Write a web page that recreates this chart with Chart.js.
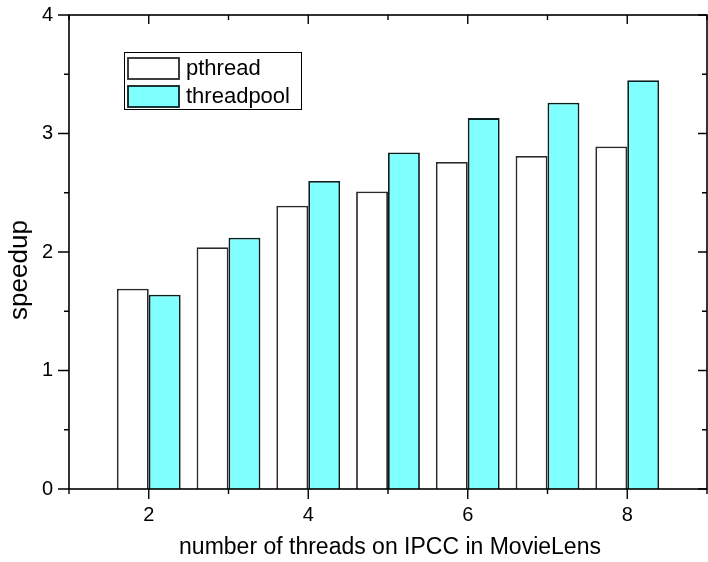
<!DOCTYPE html>
<html>
<head>
<meta charset="utf-8">
<script src="https://cdn.jsdelivr.net/npm/chart.js@4.4.0/dist/chart.umd.min.js"></script>
<style>
    html, body { margin: 0; padding: 0; background: #fff; }
    #wrap { width: 708px; height: 562px; }
</style>
</head>
<body>
<div id="wrap"><canvas id="speedupChart" width="708" height="562"></canvas></div>
<script>
// data
const threads = [2, 3, 4, 5, 6, 7, 8];
const pthreadSpeedup = [1.69, 2.04, 2.39, 2.51, 2.76, 2.81, 2.89];
const threadpoolSpeedup = [1.64, 2.12, 2.60, 2.84, 3.13, 3.26, 3.45];
const xTickLabels = [2, 4, 6, 8];
const yTickLabels = [0, 1, 2, 3, 4];

const FONT = '"Liberation Sans", Arial, sans-serif';

// frame, tick marks, axis titles and the boxed legend
const framePlugin = {
    id: 'frame',
    afterDraw(chart) {
        const ctx = chart.ctx;
        const a = chart.chartArea;
        const x = chart.scales.x;
        const y = chart.scales.y;

        ctx.save();
        ctx.strokeStyle = '#000';
        ctx.lineWidth = 1.6;
        ctx.strokeRect(a.left, a.top, a.right - a.left, a.bottom - a.top);

        ctx.lineWidth = 1.4;
        ctx.beginPath();
        x.ticks.forEach(t => {
            const px = x.getPixelForValue(t.value);
            const major = xTickLabels.includes(t.value);
            ctx.moveTo(px, a.bottom); ctx.lineTo(px, a.bottom + (major ? 10 : 5));
            ctx.moveTo(px, a.top); ctx.lineTo(px, a.top + (major ? 9 : 5));
        });
        y.ticks.forEach(t => {
            const py = y.getPixelForValue(t.value);
            const major = yTickLabels.includes(t.value);
            ctx.moveTo(a.left - (major ? 11 : 5), py); ctx.lineTo(a.left, py);
            ctx.moveTo(a.right - (major ? 9 : 5), py); ctx.lineTo(a.right, py);
        });
        ctx.stroke();

        // axis titles
        ctx.fillStyle = '#000';
        ctx.textAlign = 'center';
        ctx.textBaseline = 'middle';
        ctx.font = '23px ' + FONT;
        ctx.fillText('number of threads on IPCC in MovieLens', 390, 548);
        ctx.save();
        ctx.translate(20, 270);
        ctx.rotate(-Math.PI / 2);
        ctx.font = '26px ' + FONT;
        ctx.fillText('speedup', 0, 0);
        ctx.restore();

        // legend
        ctx.lineWidth = 1;
        ctx.strokeRect(124.5, 52.5, 177, 57);
        ctx.textAlign = 'left';
        ctx.font = '22px ' + FONT;
        chart.data.datasets.forEach((ds, i) => {
            const top = 58 + i * 28;
            ctx.fillStyle = ds.backgroundColor;
            ctx.fillRect(128, top, 51, 21);
            ctx.lineWidth = 1.8;
            ctx.strokeStyle = ds.borderColor;
            ctx.strokeRect(128, top, 51, 21);
            ctx.fillStyle = '#000';
            ctx.fillText(ds.label, 186, top + 11);
        });
        ctx.restore();
    }
};

const ctx = document.getElementById('speedupChart').getContext('2d');
new Chart(ctx, {
    type: 'bar',
    data: {
        datasets: [{
            label: 'pthread',
            data: threads.map((t, i) => ({ x: t, y: pthreadSpeedup[i] })),
            backgroundColor: '#ffffff',
            borderColor: '#2a2a2a',
            borderWidth: 1.8,
            borderSkipped: 'bottom',
            categoryPercentage: 0.8,
            barPercentage: 1
        }, {
            label: 'threadpool',
            data: threads.map((t, i) => ({ x: t, y: threadpoolSpeedup[i] })),
            backgroundColor: '#80ffff',
            borderColor: '#0a1f1f',
            borderWidth: 1.8,
            borderSkipped: 'bottom',
            categoryPercentage: 0.8,
            barPercentage: 1
        }]
    },
    options: {
        responsive: false,
        animation: false,
        layout: { padding: { left: 0, right: 1, top: 15, bottom: 0 } },
        plugins: {
            legend: { display: false },
            tooltip: { enabled: false }
        },
        scales: {
            x: {
                type: 'linear',
                min: 1,
                max: 9,
                offset: false,
                grid: { display: false, drawTicks: false },
                border: { display: false },
                ticks: {
                    stepSize: 1,
                    autoSkip: false,
                    maxRotation: 0,
                    padding: 14,
                    color: '#000',
                    font: { family: FONT, size: 20 },
                    callback: v => xTickLabels.includes(v) ? v : ''
                },
                afterFit: s => {
                    s.height = 73;
                    s.paddingLeft = 0;
                    s.paddingRight = 0;
                }
            },
            y: {
                min: 0,
                max: 4,
                grid: { display: false, drawTicks: false },
                border: { display: false },
                ticks: {
                    stepSize: 0.5,
                    autoSkip: false,
                    padding: 16,
                    color: '#000',
                    font: { family: FONT, size: 20 },
                    callback: v => yTickLabels.includes(v) ? v : ''
                },
                afterFit: s => {
                    s.width = 69;
                    s.paddingTop = 0;
                    s.paddingBottom = 0;
                }
            }
        }
    },
    plugins: [framePlugin]
});
</script>
</body>
</html>
